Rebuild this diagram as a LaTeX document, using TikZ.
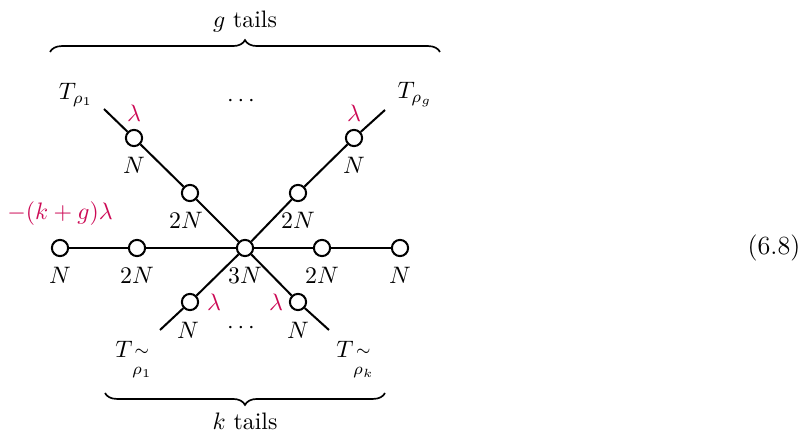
\documentclass[tikz,border=0pt]{standalone}
\usepackage{amsmath}
\usetikzlibrary{decorations.pathreplacing}
\definecolor{lam}{RGB}{204,10,85}
\begin{document}
\begin{tikzpicture}[x=0.42pt,y=-0.42pt,
  vtx/.style={circle,draw,line width=0.85pt,fill=white,minimum size=6.8pt,inner sep=0pt},
  edge/.style={line width=0.85pt},
  lab/.style={inner sep=0pt},
  lamlab/.style={inner sep=0pt,text=lam},
  brc/.style={decorate,decoration={brace,amplitude=5pt},line width=0.7pt}]
\useasboundingbox (0,0) rectangle (805,432);
% nodes
\node[vtx] (c) at (245,248) {};
\node[vtx] (l1) at (137,248) {};
\node[vtx] (l2) at (60,248) {};
\node[vtx] (r1) at (322,248) {};
\node[vtx] (r2) at (400,248) {};
\node[vtx] (ul1) at (190,193) {};
\node[vtx] (ul2) at (134,138) {};
\node[vtx] (ur1) at (298,193) {};
\node[vtx] (ur2) at (354,138) {};
\node[vtx] (dl) at (190,302) {};
\node[vtx] (dr) at (298,302) {};
\coordinate (ule) at (104,109);
\coordinate (ure) at (385,110);
\coordinate (dle) at (160,330);
\coordinate (dre) at (329,330);
% edges
\draw[edge] (l2) -- (l1) -- (c) -- (r1) -- (r2);
\draw[edge] (ule) -- (ul2) -- (ul1) -- (c);
\draw[edge] (ure) -- (ur2) -- (ur1) -- (c);
\draw[edge] (dle) -- (dl) -- (c);
\draw[edge] (dre) -- (dr) -- (c);
% labels
\node[lab] (t1) at (60,275) {$N$};
\node[lab] (t2) at (137,275) {$2N$};
\node[lab] (t3) at (245,275) {$3N$};
\node[lab] (t4) at (322,275) {$2N$};
\node[lab] (t5) at (400,275) {$N$};
\node[lab] (t6) at (134,165) {$N$};
\node[lab] (t7) at (186,220) {$2N$};
\node[lab] (t8) at (354,165) {$N$};
\node[lab] (t9) at (298,220) {$2N$};
\node[lab] (t10) at (188,330) {$N$};
\node[lab] (t11) at (298,330) {$N$};
\node[lab] (d1) at (243,101) {$\cdots$};
\node[lab] (d2) at (243,328) {$\cdots$};
\node[lamlab] (a1) at (134,113) {$\lambda$};
\node[lamlab] (a2) at (354,113) {$\lambda$};
\node[lamlab] (a3) at (214,302) {$\lambda$};
\node[lamlab] (a4) at (276,302) {$\lambda$};
\node[lamlab] (a5) at (60,214) {$-(k+g)\lambda$};
\node[lab] (T1) at (76,95) {$T_{\rho_1}$};
\node[lab] (Tg) at (415,95) {$T_{\rho_g}$};
\node[lab,anchor=north west] (T3) at (115,341) {$T_{\genfrac{}{}{0pt}{1}{\sim}{\rho_1}}$};
\node[lab,anchor=north west] (T4) at (336,341) {$T_{\genfrac{}{}{0pt}{1}{\sim}{\rho_k}}$};
% braces
\coordinate (b1a) at (50,52);
\coordinate (b1b) at (440,52);
\draw[brc] (b1a) -- (b1b);
\node[lab] (gt) at (245,22) {$g$ tails};
\coordinate (b2a) at (385,393);
\coordinate (b2b) at (105,393);
\draw[brc] (b2a) -- (b2b);
\node[lab] (kt) at (245,421) {$k$ tails};
\node[lab,font=\fontsize{11}{13}\selectfont] (eq) at (774,248) {(6.8)};
\end{tikzpicture}
\end{document}
